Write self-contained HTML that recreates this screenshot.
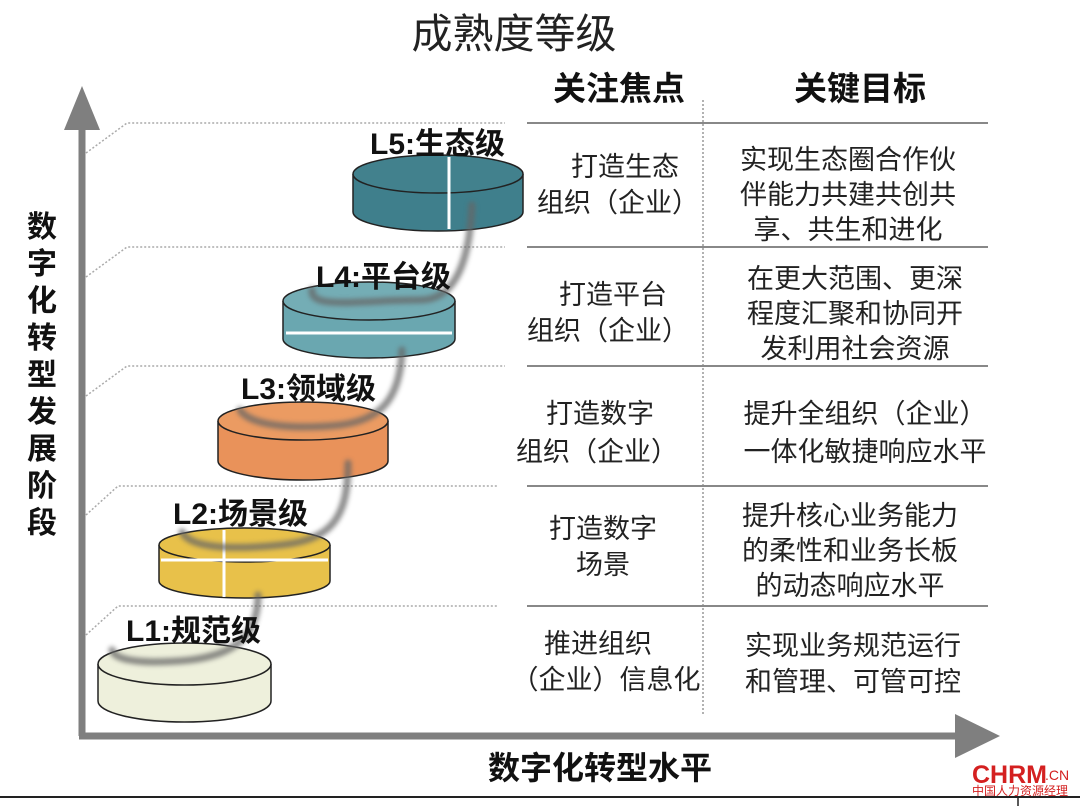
<!DOCTYPE html>
<html><head><meta charset="utf-8"><style>
body{margin:0;background:#fff;width:1080px;height:806px;overflow:hidden;font-family:"Liberation Sans","Noto Sans CJK SC",sans-serif}
svg text{font-family:"Liberation Sans","Noto Sans CJK SC",sans-serif}
</style></head><body>
<svg width="1080" height="806" viewBox="0 0 1080 806" xmlns="http://www.w3.org/2000/svg">
<defs><filter id="b"><feGaussianBlur stdDeviation="2.5"/></filter></defs>
<text x="514" y="48" font-size="41" text-anchor="middle" fill="#222">成熟度等级</text>
<line x1="82" y1="120" x2="82" y2="736" stroke="#7f7f7f" stroke-width="7"/>
<polygon points="82,86 64,130 100,130" fill="#7f7f7f"/>
<line x1="79" y1="736" x2="975" y2="736" stroke="#7f7f7f" stroke-width="7"/>
<polygon points="1000,736 955,714 955,758" fill="#7f7f7f"/>
<g stroke="#aaa" stroke-width="1.5" stroke-dasharray="2,2" fill="none">
<polyline points="86,153 127,123 505,123"/>
<polyline points="86,277 127,247 505,247"/>
<polyline points="86,396 127,366 505,366"/>
<polyline points="86,515 118,486 497,486"/>
<polyline points="86,635 118,606 497,606"/>
<line x1="703" y1="100" x2="703" y2="715" stroke="#999"/>
</g>
<g stroke="#888" stroke-width="2">
<line x1="527" y1="123" x2="988" y2="123"/><line x1="527" y1="247" x2="988" y2="247"/>
<line x1="527" y1="366" x2="988" y2="366"/><line x1="527" y1="486" x2="988" y2="486"/>
<line x1="527" y1="606" x2="988" y2="606"/>
</g>
<g stroke="#222" stroke-width="1.5">
<path d="M98,664 V701 A86.5,21 0 0 0 271,701 V664" fill="#eef0dc"/>
<ellipse cx="184.5" cy="664" rx="86.5" ry="21" fill="#eef0dc"/>
<path d="M159,545 V581 A85.5,17 0 0 0 330,581 V545" fill="#e8c14a"/>
<ellipse cx="244.5" cy="545" rx="85.5" ry="17" fill="#e8c14a"/>
<path d="M218,421 V461 A85,19 0 0 0 388,461 V421" fill="#e9925a"/>
<ellipse cx="303" cy="421" rx="85" ry="19" fill="#eb9b62"/>
<path d="M283,301 V339 A86,19 0 0 0 455,339 V301" fill="#6aa7b0"/>
<ellipse cx="369" cy="301" rx="86" ry="19" fill="#74adb5"/>
<path d="M353,174 V212 A85,19 0 0 0 523,212 V174" fill="#3f7f8c"/>
<ellipse cx="438" cy="174" rx="85" ry="19" fill="#42818d"/>
</g>
<g stroke="#fff" stroke-width="3">
<line x1="449" y1="157" x2="449" y2="229"/>
<line x1="286" y1="333" x2="452" y2="333"/>
<line x1="161" y1="560" x2="328" y2="560"/>
<line x1="224" y1="530" x2="224" y2="597"/>
</g>
<g stroke="#666" stroke-width="7" fill="none" opacity="0.75" filter="url(#b)" stroke-linecap="round">
<path d="M472,205 C470,250 460,300 420,300 C360,300 310,310 312,290"/>
<path d="M402,350 C400,400 380,420 340,425 C290,430 250,425 240,410"/>
<path d="M348,463 C348,520 330,540 280,545 C230,550 190,548 182,532"/>
<path d="M258,595 C258,640 230,655 190,660 C150,664 115,662 112,650"/>
</g>
<g font-size="30" font-weight="bold" fill="#111">
<text x="370" y="154">L5:生态级</text>
<text x="316" y="287">L4:平台级</text>
<text x="241" y="399">L3:领域级</text>
<text x="173" y="524">L2:场景级</text>
<text x="126" y="641">L1:规范级</text>
</g>
<g font-size="30" font-weight="bold" fill="#111" text-anchor="middle">
<text x="42" y="237">数</text><text x="42" y="274">字</text><text x="42" y="311">化</text>
<text x="42" y="348">转</text><text x="42" y="385">型</text><text x="42" y="422">发</text>
<text x="42" y="459">展</text><text x="42" y="496">阶</text><text x="42" y="533">段</text>
</g>
<text x="600" y="779" font-size="32" font-weight="bold" text-anchor="middle" fill="#111">数字化转型水平</text>
<text x="619" y="100" font-size="33" font-weight="bold" text-anchor="middle" fill="#111">关注焦点</text>
<text x="860" y="100" font-size="33" font-weight="bold" text-anchor="middle" fill="#111">关键目标</text>
<g font-size="27" text-anchor="middle" fill="#222">
<text x="625" y="176">打造生态</text><text x="618" y="212">组织（企业）</text>
<text x="848" y="169">实现生态圈合作伙</text><text x="848" y="204">伴能力共建共创共</text><text x="848" y="239">享、共生和进化</text>
<text x="613" y="304">打造平台</text><text x="608" y="340">组织（企业）</text>
<text x="855" y="288">在更大范围、更深</text><text x="855" y="323">程度汇聚和协同开</text><text x="855" y="358">发利用社会资源</text>
<text x="600" y="423">打造数字</text><text x="597" y="461">组织（企业）</text>
<text x="865" y="423">提升全组织（企业）</text><text x="865" y="461">一体化敏捷响应水平</text>
<text x="603" y="538">打造数字</text><text x="603" y="574">场景</text>
<text x="850" y="525">提升核心业务能力</text><text x="850" y="560">的柔性和业务长板</text><text x="850" y="595">的动态响应水平</text>
<text x="598" y="653">推进组织</text><text x="606" y="689">（企业）信息化</text>
<text x="853" y="655">实现业务规范运行</text><text x="853" y="691">和管理、可管可控</text>
</g>
<text x="972" y="783" font-size="25" font-weight="bold" fill="#d42020">CHRM</text>
<text x="1045" y="780" font-size="14" fill="#d42020">.CN</text>
<text x="972" y="795" font-size="12" fill="#d42020">中国人力资源经理</text>
<line x1="0" y1="797" x2="1080" y2="797" stroke="#222" stroke-width="2"/>
<line x1="1018" y1="797" x2="1018" y2="806" stroke="#222" stroke-width="1.5"/>
</svg>
</body></html>
